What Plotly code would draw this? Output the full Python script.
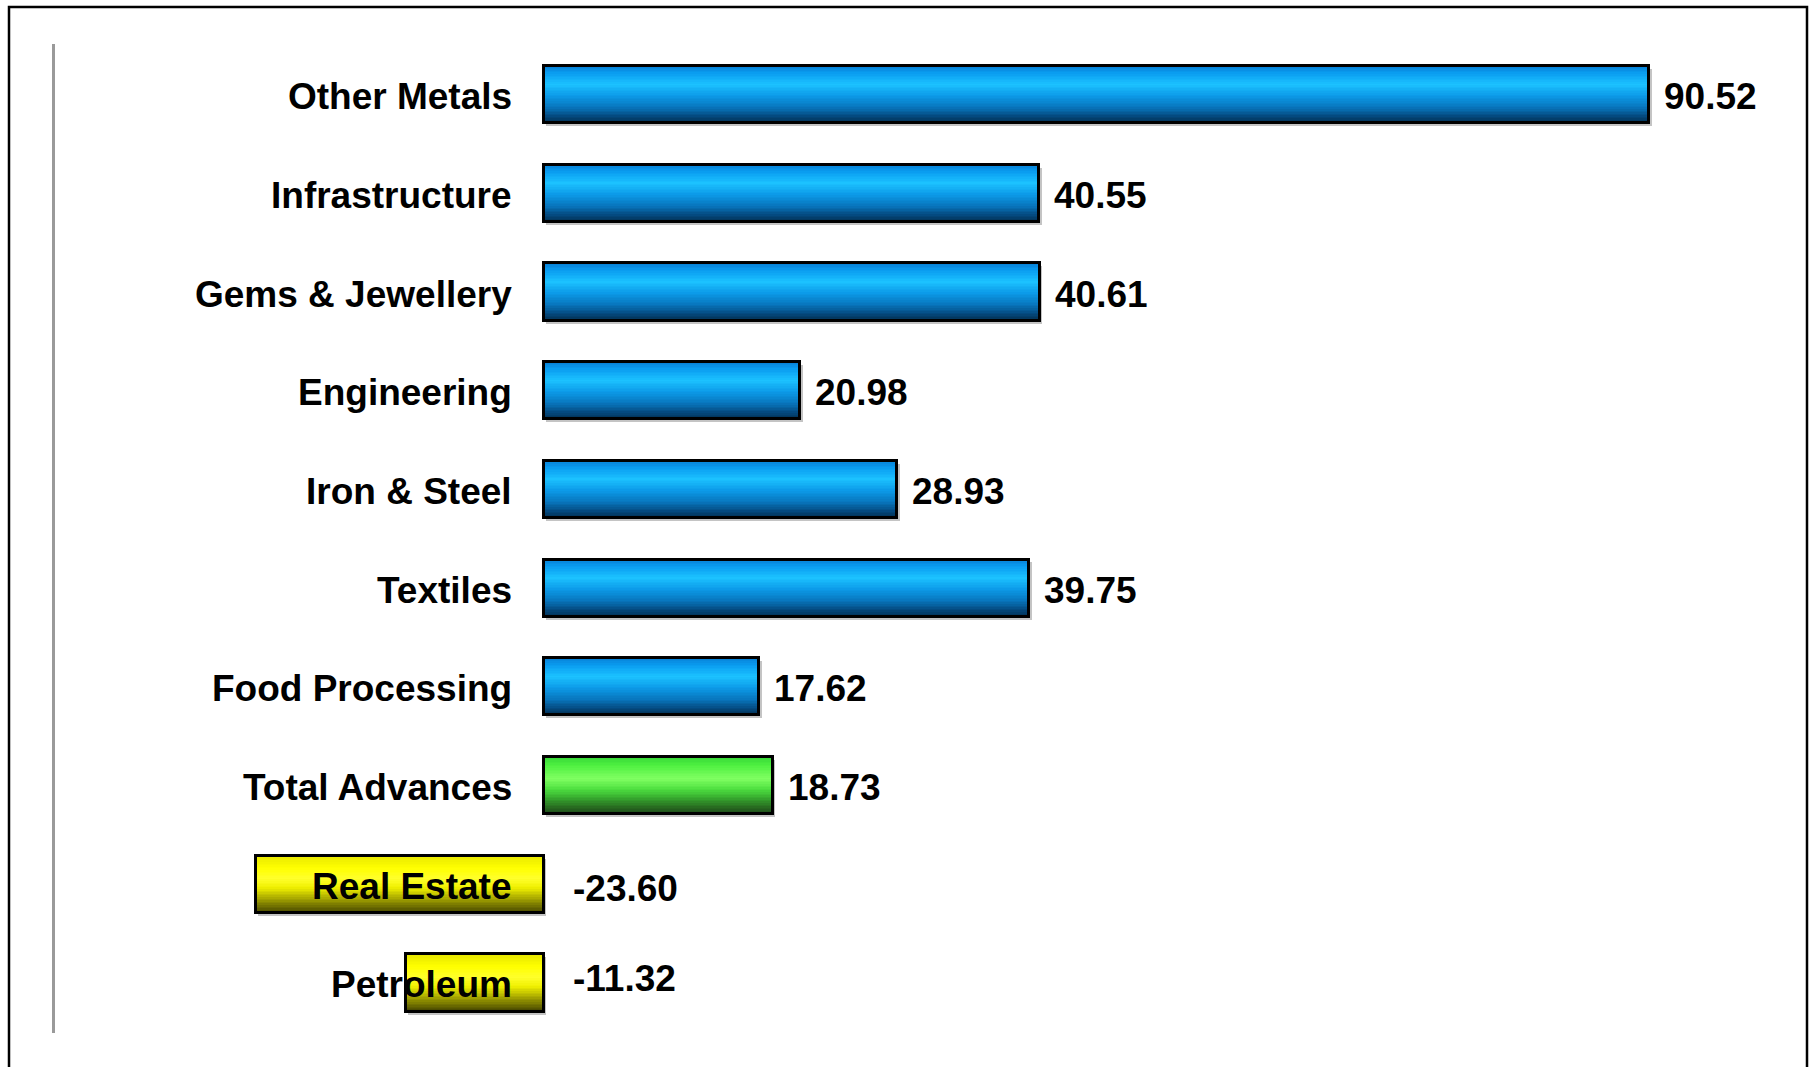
import plotly.graph_objects as go

# Growth by sector (%)
categories = [
    "Other Metals", "Infrastructure", "Gems & Jewellery", "Engineering",
    "Iron & Steel", "Textiles", "Food Processing", "Total Advances",
    "Real Estate", "Petroleum",
]
values = [90.52, 40.55, 40.61, 20.98, 28.93, 39.75, 17.62, 18.73, -23.60, -11.32]
value_labels = ["90.52", "40.55", "40.61", "20.98", "28.93", "39.75",
                "17.62", "18.73", "-23.60", "-11.32"]

# vertical gradient stops (0 = top edge of bar, 1 = bottom edge)
GRADIENTS = {
    "blue": [(0.0, "#0780d6"), (0.12, "#0a9cf0"), (0.32, "#1cc2ff"),
             (0.52, "#0c9ae8"), (0.72, "#0876bd"), (0.88, "#04497e"),
             (1.0, "#022f50")],
    "green": [(0.0, "#38d838"), (0.15, "#4ef040"), (0.38, "#80ff62"),
              (0.56, "#4ee040"), (0.72, "#36a82e"), (0.88, "#286a20"),
              (1.0, "#1c4818")],
    "yellow": [(0.0, "#e8e800"), (0.22, "#ffff00"), (0.4, "#ffff2c"),
               (0.56, "#f0f000"), (0.72, "#b2b200"), (0.88, "#707000"),
               (1.0, "#464600")],
}


def palette_for(name, val):
    if val < 0:
        return "yellow"
    if name == "Total Advances":
        return "green"
    return "blue"


def hex_to_rgb(h):
    h = h.lstrip("#")
    return tuple(int(h[i:i + 2], 16) for i in (0, 2, 4))


def sample(stops, t):
    for (t0, c0), (t1, c1) in zip(stops, stops[1:]):
        if t0 <= t <= t1:
            f = (t - t0) / (t1 - t0) if t1 > t0 else 0
            a, b = hex_to_rgb(c0), hex_to_rgb(c1)
            r, g, bl = (round(a[k] + (b[k] - a[k]) * f) for k in range(3))
            return f"rgb({r},{g},{bl})"
    return stops[-1][1]


positions = list(range(len(categories)))
palettes = [palette_for(c, v) for c, v in zip(categories, values)]

BAR_W = 0.58
N_STRIPS = 36
dw = BAR_W / N_STRIPS

fig = go.Figure()

# soft drop shadow behind each bar
fig.add_trace(go.Bar(
    orientation="h", y=positions, x=values, base=0.2,
    width=BAR_W, offset=-BAR_W / 2 + 0.03,
    marker=dict(color="#c4c4c4", line=dict(width=0)),
    hoverinfo="skip", showlegend=False,
))

# gradient fill built from thin horizontal strips
for i in range(N_STRIPS):
    t = (i + 0.5) / N_STRIPS
    colors = [sample(GRADIENTS[p], t) for p in palettes]
    w = dw * (1.6 if i < N_STRIPS - 1 else 1.0)
    fig.add_trace(go.Bar(
        orientation="h", y=positions, x=values,
        width=w, offset=-BAR_W / 2 + i * dw,
        marker=dict(color=colors, line=dict(width=0)),
        hoverinfo="skip", showlegend=False,
    ))

# black outline on top
fig.add_trace(go.Bar(
    orientation="h", y=positions, x=values,
    width=BAR_W, offset=-BAR_W / 2,
    marker=dict(color="rgba(0,0,0,0)", line=dict(color="#000000", width=3)),
    hovertemplate="%{customdata}: %{x:.2f}<extra></extra>",
    customdata=categories, showlegend=False,
))

FONT = dict(family="Liberation Sans, Arial, Helvetica, sans-serif",
            size=37, color="#000000", weight=700)

annotations = []
for pos, name in zip(positions, categories):
    annotations.append(dict(
        x=0, y=pos, xref="x", yref="y", text=name, showarrow=False,
        xanchor="right", yanchor="middle", xshift=-30, yshift=-2, font=FONT,
    ))

# small vertical nudges for the labels of the negative bars
label_yshift = {"Real Estate": -4, "Petroleum": 4}
for pos, name, val, lab in zip(positions, categories, values, value_labels):
    if val >= 0:
        annotations.append(dict(
            x=val, y=pos, xref="x", yref="y", text=lab, showarrow=False,
            xanchor="left", yanchor="middle", xshift=13, yshift=-2, font=FONT,
        ))
    else:
        annotations.append(dict(
            x=0, y=pos, xref="x", yref="y", text=lab, showarrow=False,
            xanchor="left", yanchor="middle", xshift=27,
            yshift=label_yshift.get(name, 0), font=FONT,
        ))

fig.update_layout(
    width=1809, height=1067,
    margin=dict(l=55, r=49, t=44, b=34),
    paper_bgcolor="white", plot_bgcolor="white",
    barmode="overlay", bargap=0,
    showlegend=False,
    annotations=annotations,
    xaxis=dict(range=[-40.05, 99.59], visible=False, fixedrange=True),
    yaxis=dict(range=[9.507, -0.513], showticklabels=False, showgrid=False,
               zeroline=False, ticks="", showline=True,
               linecolor="#9a9a9a", linewidth=3, fixedrange=True),
    shapes=[dict(
        type="rect", xref="paper", yref="paper",
        xsizemode="pixel", ysizemode="pixel", xanchor=0, yanchor=1,
        x0=-46, x1=1752, y0=-1200, y1=37,
        line=dict(color="#000000", width=2.5), fillcolor="rgba(0,0,0,0)",
        layer="above",
    )],
)

fig.write_html("out.html")
